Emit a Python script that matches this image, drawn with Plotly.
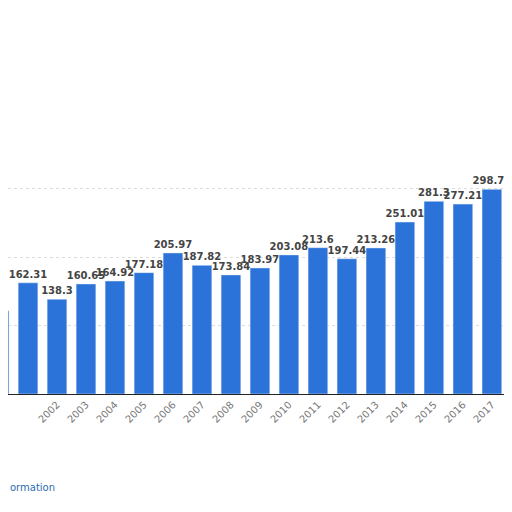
import plotly.graph_objects as go

years = [str(y) for y in range(2000, 2019)]
values = [121.41, 162.31, 138.3, 160.65, 164.92, 177.18, 205.97, 187.82, 173.84, 183.97,
          203.08, 213.6, 197.44, 213.26, 251.01, 281.3, 277.21, 298.75, 328.5]
labels = [f"<b>{v:g}</b>" for v in values]

fig = go.Figure(go.Bar(
    x=list(range(len(years))), y=values, text=labels, textposition="outside",
    textfont=dict(family="DejaVu Sans", size=10, color="#444"), cliponaxis=False,
    constraintext="none", marker_color="#2b73d8", width=0.68))

fig.update_layout(
    width=512, height=512, margin=dict(l=0, r=0, t=112, b=126, autoexpand=False),
    paper_bgcolor="white", plot_bgcolor="white", showlegend=False,
    uniformtext=dict(mode=False),
    xaxis=dict(range=[0.31, 17.97], tickmode="array", tickvals=list(range(len(years))),
               ticktext=years, tickangle=-45, automargin=False,
               tickfont=dict(family="DejaVu Sans", size=10, color="#777"),
               showline=True, linecolor="#222", linewidth=1, showgrid=False, ticks=""),
    yaxis=dict(range=[0, 400], tickvals=[100, 200, 300], showticklabels=False, automargin=False,
               gridcolor="#ddd", griddash="dot", zeroline=False),
    annotations=[
        dict(text="ormation", x=0, y=-0.34, xref="paper", yref="paper", xanchor="left",
             yanchor="middle", showarrow=False,
             font=dict(size=10, color="#2a6db0", family="DejaVu Sans")),
        dict(text="©", x=0.995, y=-0.25, xref="paper", yref="paper", xanchor="right",
             yanchor="middle", showarrow=False,
             font=dict(size=10, color="#2a6db0", family="DejaVu Sans")),
    ],
)
fig.write_html("out.html")
